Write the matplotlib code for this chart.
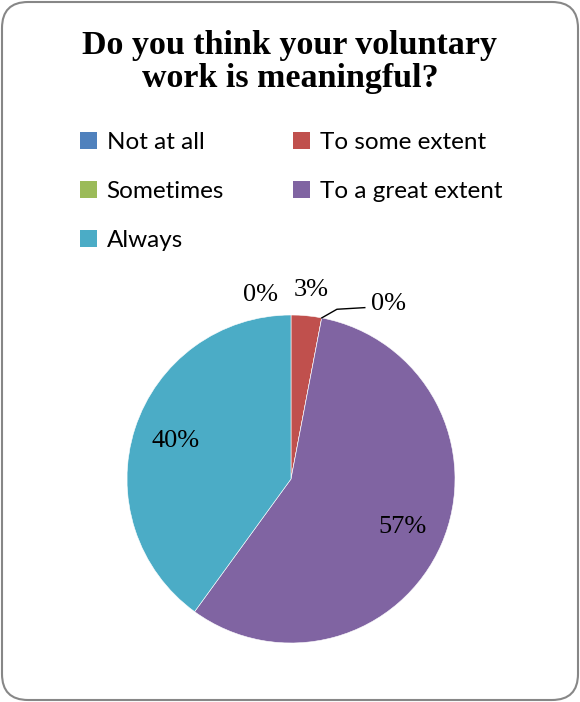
import matplotlib
matplotlib.use("Agg")
import matplotlib.pyplot as plt
from matplotlib.patches import FancyBboxPatch, Patch
import numpy as np

categories = ["Not at all", "To some extent", "Sometimes", "To a great extent", "Always"]
values = [0, 3, 0, 57, 40]
labels_txt = ["0%", "3%", "0%", "57%", "40%"]
colors = ["#4F81BD", "#C0504D", "#9BBB59", "#8064A2", "#4BACC6"]

W, H = 580, 702
fig = plt.figure(figsize=(W / 100, H / 100), dpi=100)
fig.patch.set_facecolor("white")

# rounded border
border = FancyBboxPatch((2 / W, 2 / H), (W - 4) / W, (H - 4) / H,
                        boxstyle="round,pad=0,rounding_size=0.045",
                        transform=fig.transFigure, facecolor="none",
                        edgecolor="#878787", linewidth=1.5, mutation_aspect=W / H,
                        zorder=-1)
fig.patches.append(border)

fig.text(0.5, 1 - 62 / H, "Do you think your voluntary\nwork is meaningful?",
         ha="center", va="center", fontsize=24.5, fontweight="bold",
         family="Liberation Serif", linespacing=1.08)

# pie axes
cx, cy, r = 291, 479, 164
ax = fig.add_axes([(cx - r) / W, 1 - (cy + r) / H, 2 * r / W, 2 * r / H])
wedges, _ = ax.pie(values, colors=colors, startangle=90, counterclock=False,
                   radius=1.0, wedgeprops=dict(linewidth=0.4, edgecolor="white"))
ax.set_xlim(-1, 1)
ax.set_ylim(-1, 1)
ax.set_aspect("equal")
ax.axis("off")

# label placements (angle in degrees, radial distance)
place = {0: (99.5, 1.14), 1: (84, 1.16), 2: (61, 1.22)}
for i, w in enumerate(wedges):
    if i in place:
        ang, dist = place[i]
    else:
        ang = (w.theta1 + w.theta2) / 2
        dist = 0.74
    x = dist * np.cos(np.radians(ang))
    y = dist * np.sin(np.radians(ang))
    ax.text(x, y, labels_txt[i], ha="center", va="center", fontsize=19,
            family="Liberation Serif", clip_on=False)

# leader line for "Sometimes"
w = wedges[2]
a = np.radians(w.theta1)
ax.plot([np.cos(a) * 1.0, 0.28, 0.45], [np.sin(a) * 1.0, 1.035, 1.045],
        color="black", lw=1, clip_on=False)

handles = [Patch(facecolor=c, edgecolor="none") for c in colors]
order = [0, 2, 4, 1, 3]
leg = fig.legend([handles[i] for i in order], [categories[i] for i in order],
                 loc="upper left", bbox_to_anchor=(58 / W, 1 - 110 / H), ncol=2,
                 frameon=False, prop=dict(family="Lato", size=17.5),
                 handlelength=0.7, handleheight=0.7, handletextpad=0.4,
                 labelspacing=1.15, columnspacing=2.85)

fig.savefig("out.png", dpi=100)
